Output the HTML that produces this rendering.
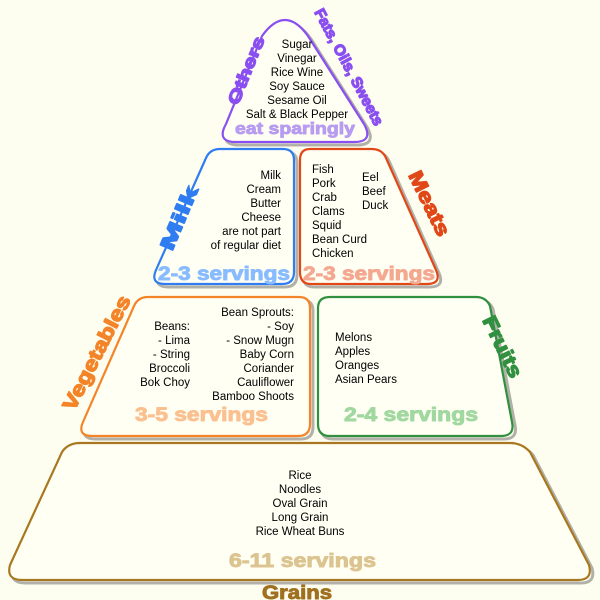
<!DOCTYPE html>
<html><head><style>body{margin:0;background:#fefef0}svg{display:block}
text{font-family:"Liberation Sans",Arial,sans-serif}
.t{font-size:11.5px;fill:#000}
.b{font-weight:bold}
.L{font-weight:bold;stroke-width:1.3;stroke-linejoin:round}
.S{font-weight:bold;stroke-width:0.9;stroke-linejoin:round}
</style></head><body>
<svg width="600" height="600" viewBox="0 0 600 600">
<rect width="600" height="600" fill="#fefef0"/>
<g fill="none" stroke="#555" stroke-width="3" opacity="0.45" transform="translate(3,3)">
<path d="M262,36 Q285,4 308,36 L364,124 Q374,142 354,142 L236,142 Q216,142 226,124 Z"/>
<path d="M220,149 L283,149 Q294,149 294,160 L294,272 Q294,284 282,284 L165,284 Q150,284 156,270 L206,158 Q210,149 220,149 Z"/>
<path d="M310,149 L372,149 Q382,149 386,158 L436,270 Q442,284 427,284 L311,284 Q300,284 300,272 L300,160 Q300,149 310,149 Z"/>
<path d="M148,297 L299,297 Q310,297 310,308 L310,424 Q310,436 298,436 L92,436 Q77,436 83,422 L134,306 Q138,297 148,297 Z"/>
<path d="M330,297 L476,297 Q486,297 490,306 L512,422 Q515,436 501,436 L330,436 Q318,436 318,424 L318,308 Q318,297 330,297 Z"/>
<path d="M80,443 L510,443 Q522,443 530,452 L589,565 Q593,580 578,580 L22,580 Q6,580 10,565 L62,452 Q68,443 80,443 Z"/>
</g>
<g fill="#fffff4" stroke-width="2.2">
<path stroke="#8a4ff0" d="M262,36 Q285,4 308,36 L364,124 Q374,142 354,142 L236,142 Q216,142 226,124 Z"/>
<path stroke="#2f7df0" d="M220,149 L283,149 Q294,149 294,160 L294,272 Q294,284 282,284 L165,284 Q150,284 156,270 L206,158 Q210,149 220,149 Z"/>
<path stroke="#e04818" d="M310,149 L372,149 Q382,149 386,158 L436,270 Q442,284 427,284 L311,284 Q300,284 300,272 L300,160 Q300,149 310,149 Z"/>
<path stroke="#f48428" d="M148,297 L299,297 Q310,297 310,308 L310,424 Q310,436 298,436 L92,436 Q77,436 83,422 L134,306 Q138,297 148,297 Z"/>
<path stroke="#309040" d="M330,297 L476,297 Q486,297 490,306 L512,422 Q515,436 501,436 L330,436 Q318,436 318,424 L318,308 Q318,297 330,297 Z"/>
<path stroke="#a87820" d="M80,443 L510,443 Q522,443 530,452 L589,565 Q593,580 578,580 L22,580 Q6,580 10,565 L62,452 Q68,443 80,443 Z"/>
</g>
<g class="t" text-anchor="middle">
<text x="297" y="48">Sugar</text><text x="297" y="62">Vinegar</text><text x="297" y="76">Rice Wine</text>
<text x="297" y="90">Soy Sauce</text><text x="297" y="104">Sesame Oil</text><text x="297" y="118">Salt &amp; Black Pepper</text>
</g>
<text x="235" y="134" textLength="120" lengthAdjust="spacingAndGlyphs" class="S" font-size="17" fill="#b89cf0" stroke="#b89cf0">eat sparingly</text>
<text transform="translate(238,106) rotate(-68)" textLength="72" lengthAdjust="spacingAndGlyphs" class="L" font-size="17" fill="#8a4ff0" stroke="#8a4ff0">Others</text>
<text transform="translate(314,12) rotate(62)" textLength="130" lengthAdjust="spacingAndGlyphs" class="L" font-size="15" fill="#8a4ff0" stroke="#8a4ff0">Fats, Oils, Sweets</text>

<g class="t" text-anchor="end">
<text x="281" y="179">Milk</text><text x="281" y="193">Cream</text><text x="281" y="207">Butter</text>
<text x="281" y="221">Cheese</text><text x="281" y="235">are not part</text><text x="281" y="249">of regular diet</text>
</g>
<text x="158" y="280" textLength="132" lengthAdjust="spacingAndGlyphs" class="S" font-size="19" fill="#88bbff" stroke="#88bbff">2-3 servings</text>
<text transform="translate(172,252) rotate(-67)" textLength="68" lengthAdjust="spacingAndGlyphs" class="L" font-size="20" fill="#2f7df0" stroke="#2f7df0">Milk</text>

<g class="t">
<text x="312" y="173">Fish</text><text x="312" y="187">Pork</text><text x="312" y="201">Crab</text>
<text x="312" y="215">Clams</text><text x="312" y="229">Squid</text><text x="312" y="243">Bean Curd</text><text x="312" y="257">Chicken</text>
<text x="362" y="181">Eel</text><text x="362" y="195">Beef</text><text x="362" y="209">Duck</text>
</g>
<text x="303" y="280" textLength="132" lengthAdjust="spacingAndGlyphs" class="S" font-size="19" fill="#f4a890" stroke="#f4a890">2-3 servings</text>
<text transform="translate(408,175) rotate(64)" textLength="70" lengthAdjust="spacingAndGlyphs" class="L" font-size="20" fill="#e04818" stroke="#e04818">Meats</text>

<g class="t" text-anchor="end">
<text x="190" y="330">Beans:</text><text x="190" y="344">- Lima</text><text x="190" y="358">- String</text>
<text x="190" y="372">Broccoli</text><text x="190" y="386">Bok Choy</text>
<text x="294" y="316">Bean Sprouts:</text><text x="294" y="330">- Soy</text><text x="294" y="344">- Snow Mugn</text>
<text x="294" y="358">Baby Corn</text><text x="294" y="372">Coriander</text><text x="294" y="386">Cauliflower</text><text x="294" y="400">Bamboo Shoots</text>
</g>
<text x="135" y="421" textLength="133" lengthAdjust="spacingAndGlyphs" class="S" font-size="19" fill="#fbc090" stroke="#fbc090">3-5 servings</text>
<text transform="translate(74,412) rotate(-63)" textLength="126" lengthAdjust="spacingAndGlyphs" class="L" font-size="20" fill="#f48428" stroke="#f48428">Vegetables</text>

<g class="t">
<text x="335" y="341">Melons</text><text x="335" y="355">Apples</text><text x="335" y="369">Oranges</text><text x="335" y="383">Asian Pears</text>
</g>
<text x="344" y="421" textLength="134" lengthAdjust="spacingAndGlyphs" class="S" font-size="19" fill="#a0d8a0" stroke="#a0d8a0">2-4 servings</text>
<text transform="translate(482,320) rotate(64)" textLength="66" lengthAdjust="spacingAndGlyphs" class="L" font-size="20" fill="#309040" stroke="#309040">Fruits</text>

<g class="t" text-anchor="middle">
<text x="300" y="479">Rice</text><text x="300" y="493">Noodles</text><text x="300" y="507">Oval Grain</text>
<text x="300" y="521">Long Grain</text><text x="300" y="535">Rice Wheat Buns</text>
</g>
<text x="229" y="567" textLength="147" lengthAdjust="spacingAndGlyphs" class="S" font-size="19" fill="#dcc490" stroke="#dcc490">6-11 servings</text>
<text x="262" y="599" textLength="70" lengthAdjust="spacingAndGlyphs" class="S" font-size="19" fill="#a07020" stroke="#a07020">Grains</text>
</svg>
</body></html>
